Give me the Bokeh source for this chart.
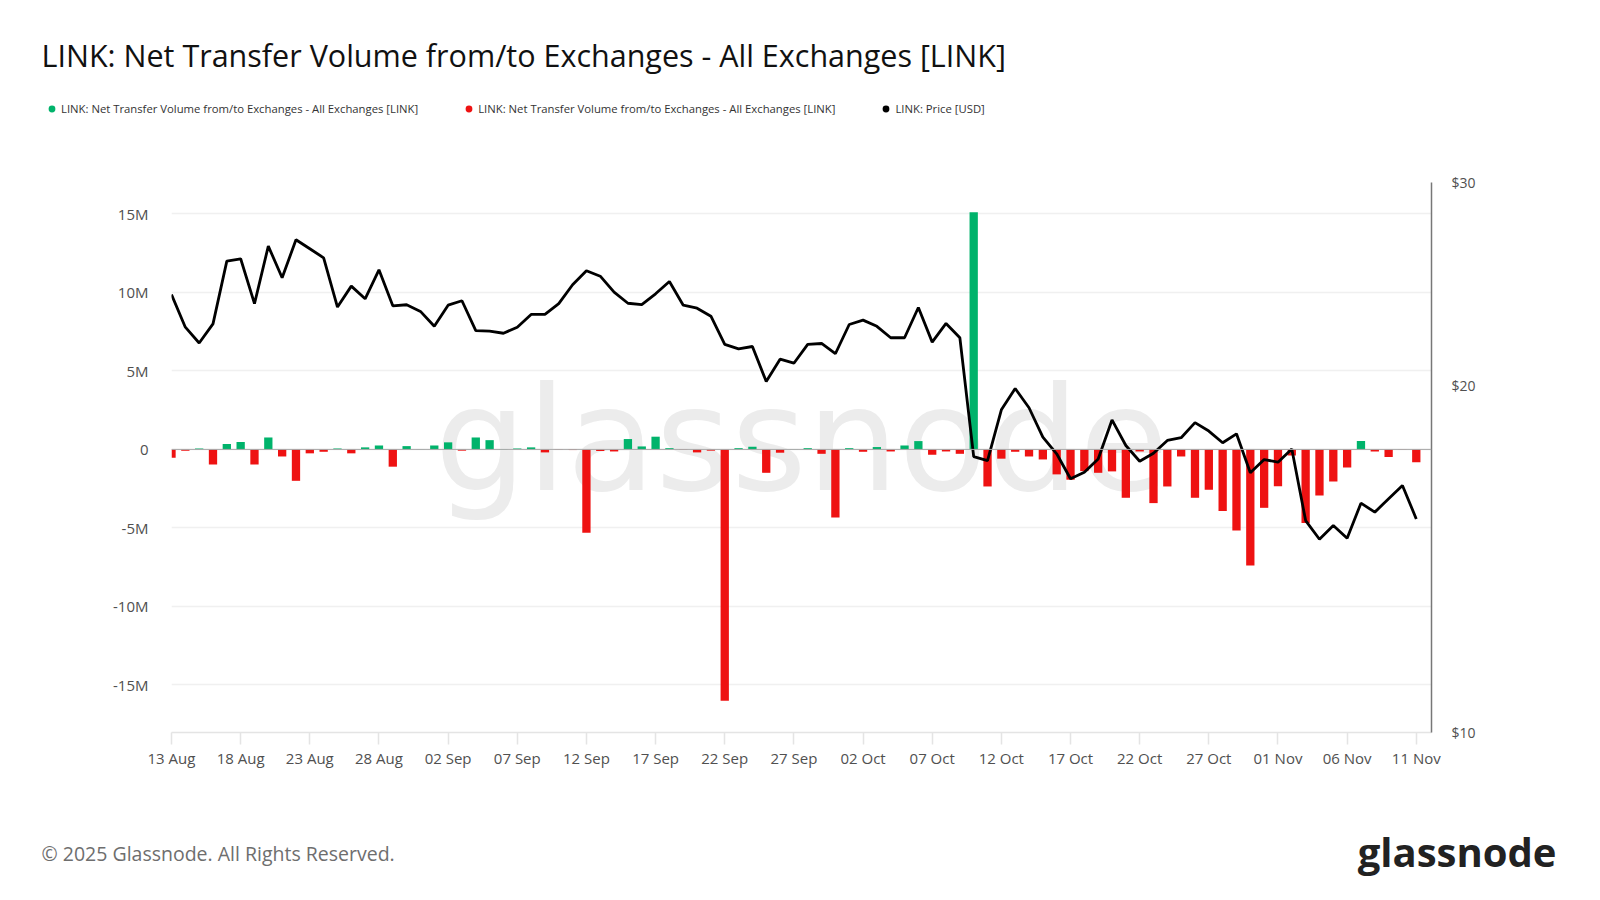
import pandas as pd
from bokeh.plotting import figure
from bokeh.models import (Range1d, LogScale, LogAxis, FixedTicker, PrintfTickFormatter,
                          DatetimeTickFormatter, ColumnDataSource, Label, Legend,
                          LegendItem, Span)
from bokeh.embed import file_html
from bokeh.resources import INLINE

# ---------------- data ----------------
dates = pd.date_range("2025-08-13", periods=91, freq="D")

# Net transfer volume from/to exchanges, millions of LINK (daily)
netflow_m = [
    -0.53, -0.08, 0.06, -0.96, 0.34, 0.47, -0.96, 0.76, -0.45, -2.00,
    -0.25, -0.15, 0.06, -0.25, 0.13, 0.25, -1.10, 0.21, 0.01, 0.25,
    0.45, -0.08, 0.76, 0.59, 0.02, 0.06, 0.13, -0.19, -0.02, -0.04,
    -5.30, -0.10, -0.13, 0.66, 0.19, 0.81, 0.08, -0.02, -0.19, -0.08,
    -16.00, 0.08, 0.17, -1.49, -0.21, 0.01, 0.08, -0.28, -4.33, 0.08,
    -0.15, 0.15, -0.13, 0.25, 0.53, -0.34, -0.13, -0.28, 15.10, -2.36,
    -0.59, -0.15, -0.45, -0.64, -1.59, -1.93, -1.38, -1.49, -1.40, -3.08,
    -0.13, -3.42, -2.36, -0.45, -3.08, -2.57, -3.93, -5.16, -7.39, -3.72,
    -2.34, -0.38, -4.69, -2.93, -2.04, -1.15, 0.53, -0.13, -0.49, -0.02,
    -0.81,
]

# LINK price, USD (daily)
price_usd = [
    23.98, 22.47, 21.77, 22.62, 25.64, 25.76, 23.55, 26.42, 24.80, 26.76,
    26.28, 25.81, 23.39, 24.39, 23.78, 25.20, 23.45, 23.50, 23.19, 22.51,
    23.48, 23.69, 22.32, 22.29, 22.20, 22.47, 23.05, 23.05, 23.55, 24.46,
    25.15, 24.88, 24.10, 23.57, 23.51, 24.02, 24.62, 23.48, 23.34, 22.97,
    21.71, 21.52, 21.62, 20.16, 21.08, 20.91, 21.71, 21.75, 21.31, 22.59,
    22.79, 22.51, 22.00, 22.00, 23.37, 21.81, 22.64, 22.00, 17.35, 17.21,
    19.05, 19.88, 19.13, 18.04, 17.45, 16.60, 16.82, 17.27, 18.67, 17.74,
    17.19, 17.47, 17.92, 18.02, 18.57, 18.26, 17.84, 18.16, 16.80, 17.25,
    17.16, 17.62, 15.27, 14.71, 15.12, 14.74, 15.81, 15.53, 15.95, 16.38,
    15.32,
]

left_ticks = [-15, -10, -5, 0, 5, 10, 15]
left_tick_labels = ["-15M", "-10M", "-5M", "0", "5M", "10M", "15M"]
price_ticks = [10, 20, 30]

title_text = "LINK: Net Transfer Volume from/to Exchanges - All Exchanges [LINK]"
legend_labels = [
    "LINK: Net Transfer Volume from/to Exchanges - All Exchanges [LINK]",
    "LINK: Net Transfer Volume from/to Exchanges - All Exchanges [LINK]",
    "LINK: Price [USD]",
]
footer_text = "\u00a9 2025 Glassnode. All Rights Reserved."
brand_text = "glassnode"

GREEN = "#00b36b"
RED = "#ee1212"
FONT = "Open Sans"
W = 1584
nan = float("nan")


def blank_fig(h):
    f = figure(width=W, height=h, x_range=Range1d(0, W), y_range=Range1d(0, h),
               output_backend="svg", toolbar_location=None,
               x_axis_location=None, y_axis_location=None,
               min_border=0, min_border_left=0, min_border_right=0,
               min_border_top=0, min_border_bottom=0)
    f.grid.visible = False
    f.outline_line_color = None
    f.background_fill_color = "white"
    f.border_fill_color = "white"
    return f


# ---------------- header: title + legend (page y 0..138) ----------------
HH = 138
head = blank_fig(HH)
head.add_layout(Label(x=41, y=HH - 54, text=title_text, text_font=FONT,
                      text_font_size="30.5px", text_color="#111111",
                      text_baseline="middle"))
d_green = head.scatter(x=[0], y=[nan], marker="circle", size=7,
                       fill_color=GREEN, line_color=None)
d_red = head.scatter(x=[0], y=[nan], marker="circle", size=7,
                     fill_color=RED, line_color=None)
d_black = head.scatter(x=[0], y=[nan], marker="circle", size=7,
                       fill_color="black", line_color=None)
legend = Legend(items=[LegendItem(label=legend_labels[0], renderers=[d_green]),
                       LegendItem(label=legend_labels[1], renderers=[d_red]),
                       LegendItem(label=legend_labels[2], renderers=[d_black])],
                location=(43, HH - 117), orientation="horizontal",
                label_text_font=FONT, label_text_font_size="11.3px",
                label_text_color="#333333", glyph_width=17, glyph_height=17,
                label_standoff=1, spacing=42, padding=0, margin=0,
                label_height=12, border_line_color=None, background_fill_alpha=0)
head.add_layout(legend)

# ---------------- main chart (page y 138..792) ----------------
pos = [(d, v) for d, v in zip(dates, netflow_m) if v >= 0]
neg = [(d, v) for d, v in zip(dates, netflow_m) if v < 0]
src_pos = ColumnDataSource(dict(date=[d for d, _ in pos], v=[v for _, v in pos]))
src_neg = ColumnDataSource(dict(date=[d for d, _ in neg], v=[v for _, v in neg]))
src_price = ColumnDataSource(dict(date=list(dates), price=price_usd))

DAY_MS = 86400000.0
x_start = dates[0].value / 1e6
x_end = dates[-1].value / 1e6 + 1.1 * DAY_MS

BT, FH, BB, BL, FW = 44, 550, 60, 171, 1260
BR = W - BL - FW
p = figure(width=W, height=BT + FH + BB, x_axis_type="datetime",
           x_range=Range1d(x_start, x_end), y_range=Range1d(-18.03, 17.0),
           output_backend="svg", toolbar_location=None,
           min_border_left=BL, min_border_right=BR,
           min_border_top=BT, min_border_bottom=BB)
p.outline_line_color = None
p.background_fill_color = "white"
p.border_fill_color = "white"

p.extra_y_ranges = {"price": Range1d(10, 30)}
p.extra_y_scales = {"price": LogScale()}

p.xgrid.visible = False
p.ygrid.ticker = FixedTicker(ticks=left_ticks)
p.ygrid.grid_line_color = "#f0f0f0"
p.ygrid.grid_line_width = 1.5

# watermark
p.add_layout(Label(x=630, y=293, x_units="screen", y_units="screen", text=brand_text,
                   text_font="DejaVu Sans", text_font_size="145px", text_color="#ececec",
                   text_align="center", text_baseline="alphabetic", level="underlay"))

p.add_layout(Span(location=0, dimension="width", line_color="#a8a8a8", line_width=1))

bar_w = 0.6 * DAY_MS
r_pos = p.vbar(x="date", top="v", bottom=0, width=bar_w, source=src_pos,
               fill_color=GREEN, line_color=None)
r_neg = p.vbar(x="date", top="v", bottom=0, width=bar_w, source=src_neg,
               fill_color=RED, line_color=None)
r_price = p.line(x="date", y="price", source=src_price, y_range_name="price",
                 line_color="black", line_width=2.8)

xa = p.xaxis[0]
xa.ticker = FixedTicker(ticks=[d.value / 1e6 for d in dates[::5]])
fmt = "%d %b"
xa.formatter = DatetimeTickFormatter(days=fmt, months=fmt, hours=fmt, years=fmt)
xa.axis_line_color = "#e4e4e4"
xa.axis_line_width = 1.5
xa.major_tick_line_color = "#e4e4e4"
xa.major_tick_line_width = 1.5
xa.major_tick_out = 12
xa.major_tick_in = 0
xa.minor_tick_line_color = None
xa.major_label_standoff = 3
xa.major_label_text_font = FONT
xa.major_label_text_font_size = "15px"
xa.major_label_text_color = "#505050"

ya = p.yaxis[0]
ya.ticker = FixedTicker(ticks=left_ticks)
ya.major_label_overrides = {t: s for t, s in zip(left_ticks, left_tick_labels)}
ya.axis_line_color = None
ya.major_tick_line_color = None
ya.minor_tick_line_color = None
ya.major_label_standoff = 17
ya.major_label_text_font = FONT
ya.major_label_text_font_size = "15px"
ya.major_label_text_color = "#505050"

ra = LogAxis(y_range_name="price", ticker=FixedTicker(ticks=price_ticks),
             formatter=PrintfTickFormatter(format="$%d"))
ra.axis_line_color = "#777777"
ra.axis_line_width = 1.5
ra.major_tick_line_color = None
ra.minor_tick_line_color = None
ra.major_label_standoff = 14
ra.major_label_text_font = FONT
ra.major_label_text_font_size = "14px"
ra.major_label_text_color = "#505050"
p.add_layout(ra, "right")

# ---------------- footer (page y 792..884) ----------------
FT = 92
foot = blank_fig(FT)
Y0 = 792 + FT
foot.add_layout(Label(x=41, y=Y0 - 853, text=footer_text, text_font=FONT,
                      text_font_size="19.5px", text_color="#6e6e6e",
                      text_baseline="middle"))
foot.add_layout(Label(x=1556, y=Y0 - 851, text=brand_text, text_font=FONT,
                      text_font_size="40px", text_font_style="bold",
                      text_color="#222222", text_align="right",
                      text_baseline="middle"))

# three separate roots, stacked on the page (no cross-plot frame alignment)
open("out.html", "w").write(file_html([head, p, foot], INLINE))
